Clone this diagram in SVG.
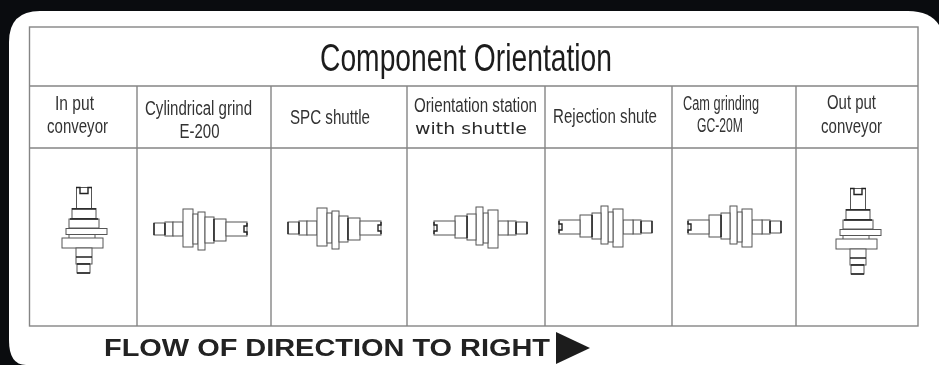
<svg xmlns="http://www.w3.org/2000/svg" width="939" height="365" viewBox="0 0 939 365">
<style>
.grid{fill:none;stroke:#858585;stroke-width:1.400}
.p{fill:#fff;stroke:#555;stroke-width:1}
.k{fill:none;stroke:#222;stroke-width:1.400}
.t{font-family:"Liberation Sans",Arial,sans-serif;fill:#333;text-anchor:middle;font-size:19.500px}
</style>
<defs>
<filter id="soft" x="-5%" y="-5%" width="110%" height="110%"><feGaussianBlur stdDeviation="0.55"/></filter>
<g id="h">
<rect class="p" x="0" y="-6" width="11" height="12"/>
<rect class="p" x="11" y="-7" width="8" height="14"/>
<rect class="p" x="19" y="-7" width="10" height="14"/>
<rect class="p" x="29" y="-20" width="10" height="38"/>
<rect class="p" x="39" y="-15" width="5" height="30"/>
<rect class="p" x="44" y="-17" width="7" height="38"/>
<rect class="p" x="51" y="-12" width="9" height="26"/>
<rect class="p" x="60" y="-10" width="12" height="22"/>
<rect class="p" x="72" y="-7" width="21" height="14"/>
<path class="k" d="M0-6V6M11-6V6M60-10V12M93-6v3h-3v6h3v3"/>
</g>
<g id="v">
<path class="p" d="M76.500 187.500h15v21h-15z"/>
<path class="k" d="M76 187.500h4v6h8v-6h4"/>
<rect class="p" x="72" y="208.500" width="24" height="10"/>
<rect class="p" x="69" y="219" width="30" height="9"/>
<path class="k" d="M72 209h24M70 219h28"/>
<rect class="p" x="66" y="228.500" width="41" height="6"/>
<rect class="p" x="69" y="234.500" width="26" height="4"/>
<rect class="p" x="62" y="238" width="41" height="10"/>
<rect class="p" x="76" y="248" width="16" height="16"/>
<rect class="p" x="77" y="264" width="13" height="9"/>
<path class="k" d="M76 257h16M77 264h13M77 273h13"/>
</g>
</defs>
<rect width="939" height="365" fill="#0a0c0f"/>
<path d="M939 25Q930 11 908 11H40Q9 11 9 42V340Q9 365 26 365H939Z" fill="#fff"/>
<g id="connectors" class="grid" filter="url(#soft)">
<rect class="grid" x="29.500" y="27" width="888.500" height="299"/>
<path class="grid" d="M29.500 86H918M29.500 148H918M137 86V326M271 86V326M407 86V326M545 86V326M672 86V326M796 86V326"/>
</g>
<g id="title" filter="url(#soft)"><text class="t" x="466" y="71" style="font-size:39px;fill:#1c1c1c" textLength="292" lengthAdjust="spacingAndGlyphs">Component Orientation</text></g>
<g id="n1" filter="url(#soft)">
<text class="t" x="74.500" y="110" textLength="39" lengthAdjust="spacingAndGlyphs">In put</text>
<text class="t" x="77.500" y="133" textLength="61" lengthAdjust="spacingAndGlyphs">conveyor</text>
<use href="#v"/>
</g>
<g id="n2" filter="url(#soft)">
<text class="t" x="198.500" y="115" textLength="107" lengthAdjust="spacingAndGlyphs">Cylindrical grind</text>
<text class="t" x="199.500" y="138" textLength="40" lengthAdjust="spacingAndGlyphs">E-200</text>
<use href="#h" transform="translate(154 229)"/>
</g>
<g id="n3" filter="url(#soft)">
<text class="t" x="330" y="124" textLength="80" lengthAdjust="spacingAndGlyphs">SPC shuttle</text>
<use href="#h" transform="translate(288 228)"/>
</g>
<g id="n4" filter="url(#soft)">
<text class="t" x="475.500" y="112" textLength="123" lengthAdjust="spacingAndGlyphs">Orientation station</text>
<text x="471" y="134" font-family="'DejaVu Sans',sans-serif" font-size="15.500" fill="#2a2a2a" text-anchor="middle" textLength="112" lengthAdjust="spacingAndGlyphs">with shuttle</text>
<use href="#h" transform="translate(527 228) rotate(180)"/>
</g>
<g id="n5" filter="url(#soft)">
<text class="t" x="605" y="123" textLength="104" lengthAdjust="spacingAndGlyphs">Rejection shute</text>
<use href="#h" transform="translate(652 227) rotate(180)"/>
</g>
<g id="n6" filter="url(#soft)">
<text class="t" x="721" y="110" textLength="76" lengthAdjust="spacingAndGlyphs">Cam grinding</text>
<text class="t" x="720" y="132" textLength="46" lengthAdjust="spacingAndGlyphs">GC-20M</text>
<use href="#h" transform="translate(781 227) rotate(180)"/>
</g>
<g id="n7" filter="url(#soft)">
<text class="t" x="851.500" y="109" textLength="49" lengthAdjust="spacingAndGlyphs">Out put</text>
<text class="t" x="851.500" y="133" textLength="61" lengthAdjust="spacingAndGlyphs">conveyor</text>
<use href="#v" transform="translate(774 1)"/>
</g>
<g id="flow" filter="url(#soft)">
<text x="327" y="356" font-family="'Liberation Sans',Arial,sans-serif" font-weight="700" font-size="24" fill="#222" text-anchor="middle" textLength="446" lengthAdjust="spacingAndGlyphs">FLOW OF DIRECTION TO RIGHT</text>
<path d="M556 332L590 348L556 364Z" fill="#1c1c1c"/>
</g>
</svg>
